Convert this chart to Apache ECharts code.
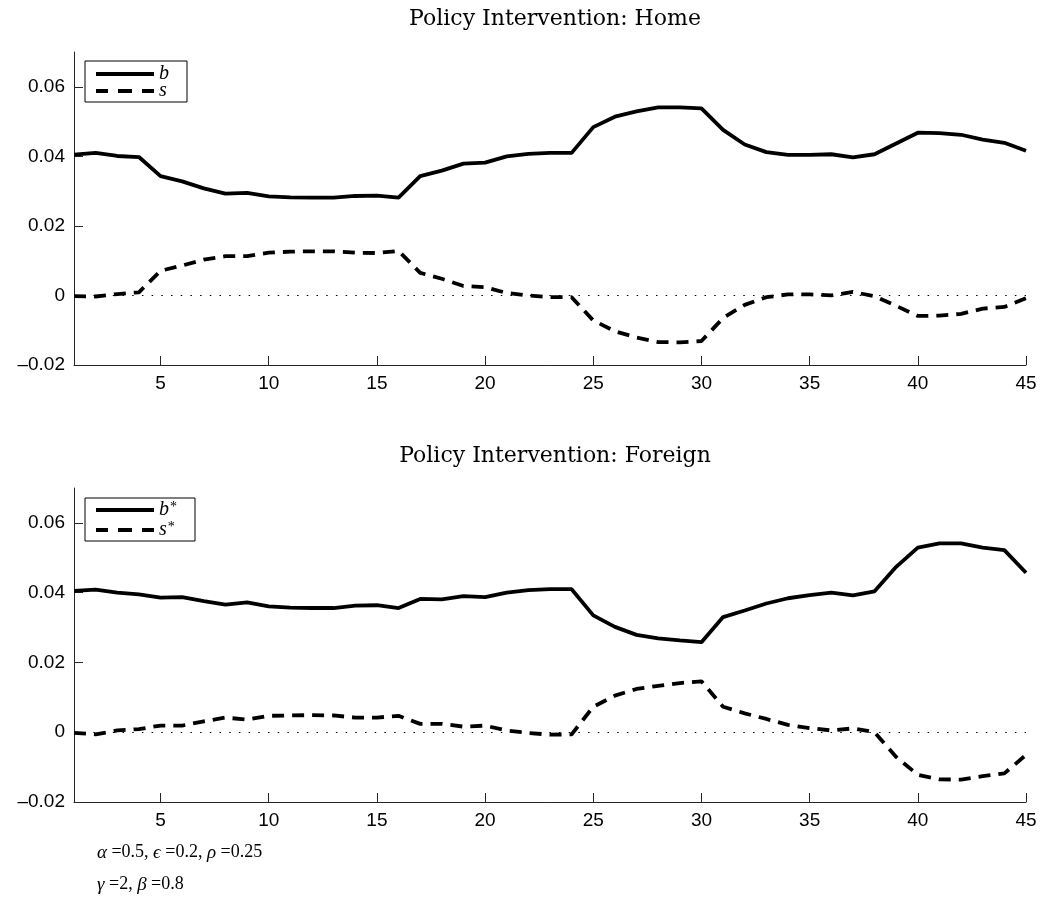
<!DOCTYPE html>
<html>
<head>
<meta charset="utf-8">
<title>Policy Intervention</title>
<script src="https://cdn.jsdelivr.net/npm/echarts@6/dist/echarts.min.js"></script>
<style>
  html, body { margin: 0; padding: 0; background: #fff; }
  #chart { width: 1044px; height: 901px; }
</style>
</head>
<body>
<div id="chart"></div>
<script>
// Horizon (periods)
const periods = [1, 2, 3, 4, 5, 6, 7, 8, 9, 10, 11, 12, 13, 14, 15, 16, 17, 18, 19, 20, 21, 22, 23,
  24, 25, 26, 27, 28, 29, 30, 31, 32, 33, 34, 35, 36, 37, 38, 39, 40, 41, 42, 43, 44, 45];

// Home economy
const homeB = [0.0405, 0.0410, 0.0401, 0.0398, 0.0343, 0.0328, 0.0308, 0.0293, 0.0295, 0.0285,
  0.0282, 0.0281, 0.0281, 0.0286, 0.0287, 0.0281, 0.0343, 0.0359, 0.0379, 0.0382, 0.0400, 0.0407,
  0.0410, 0.0410, 0.0484, 0.0514, 0.0529, 0.0541, 0.0541, 0.0538, 0.0476, 0.0434, 0.0412, 0.0404,
  0.0404, 0.0406, 0.0397, 0.0406, 0.0437, 0.0468, 0.0467, 0.0462, 0.0448, 0.0439, 0.0416];
const homeS = [-0.0002, -0.0003, 0.0004, 0.0009, 0.0071, 0.0086, 0.0103, 0.0113, 0.0113, 0.0123,
  0.0126, 0.0127, 0.0127, 0.0123, 0.0122, 0.0128, 0.0065, 0.0048, 0.0027, 0.0024, 0.0007, 0.0000,
  -0.0005, -0.0005, -0.0072, -0.0103, -0.0121, -0.0134, -0.0135, -0.0131, -0.0065, -0.0027,
  -0.0005, 0.0003, 0.0003, 0.0000, 0.0010, -0.0002, -0.0030, -0.0059, -0.0058, -0.0053, -0.0038,
  -0.0033, -0.0008];

// Foreign economy
const foreignB = [0.0405, 0.0409, 0.0400, 0.0395, 0.0386, 0.0387, 0.0376, 0.0366, 0.0372, 0.0361,
  0.0357, 0.0356, 0.0356, 0.0363, 0.0364, 0.0356, 0.0382, 0.0381, 0.0390, 0.0387, 0.0400, 0.0407,
  0.0410, 0.0410, 0.0335, 0.0302, 0.0279, 0.0269, 0.0263, 0.0258, 0.0330, 0.0349, 0.0369, 0.0384,
  0.0393, 0.0400, 0.0392, 0.0404, 0.0474, 0.0529, 0.0541, 0.0541, 0.0529, 0.0522, 0.0457];
const foreignS = [-0.0002, -0.0006, 0.0005, 0.0009, 0.0019, 0.0019, 0.0031, 0.0042, 0.0036, 0.0047,
  0.0048, 0.0049, 0.0048, 0.0042, 0.0042, 0.0047, 0.0024, 0.0024, 0.0016, 0.0019, 0.0005, -0.0002,
  -0.0007, -0.0006, 0.0073, 0.0105, 0.0124, 0.0133, 0.0141, 0.0146, 0.0073, 0.0054, 0.0038, 0.0021,
  0.0012, 0.0005, 0.0011, 0.0000, -0.0071, -0.0122, -0.0135, -0.0136, -0.0126, -0.0118, -0.0065];

// Axis ticks and labels
const xTicks = [5, 10, 15, 20, 25, 30, 35, 40, 45];
const yTicks = [-0.02, 0, 0.02, 0.04, 0.06];
const yTickLabels = ['\u20130.02', '0', '0.02', '0.04', '0.06'];

const titles = ['Policy Intervention: Home', 'Policy Intervention: Foreign'];
const seriesNames = [['b', 's'], ['b*', 's*']];
const paramLines = ['{g|\u03b1} =0.5, {g|\u03f5} =0.2, {g|\u03c1} =0.25', '{g|\u03b3} =2, {g|\u03b2} =0.8'];

const pairs = (ys) => periods.map((p, i) => [p, ys[i]]);

const AXIS = '#262626';
const sans = '"Liberation Sans", Arial, sans-serif';
const serif = '"Liberation Serif", "DejaVu Serif", serif';
const wideSerif = '"DejaVu Serif", "Liberation Serif", serif';

// Legend key glyphs: a solid bar and a three-dash bar, 58 x 4 px
const ICON_SOLID = 'path://M0,0H58V4H0Z';
const ICON_DASHED = 'path://M0,0H12V4H0Z M22,0H36V4H22Z M46,0H58V4H46Z';

const grids = [
  { left: 74, right: 18, top: 52, height: 313 },
  { left: 74, right: 18, top: 488, height: 314 }
];

function xAxisFor(idx) {
  return {
    type: 'value', gridIndex: idx, min: 1, max: 45,
    axisLine: { show: true, onZero: false, lineStyle: { color: AXIS, width: 1 } },
    axisTick: { show: true, inside: true, length: 9, customValues: xTicks, lineStyle: { color: AXIS } },
    axisLabel: { customValues: xTicks, color: '#000', fontFamily: sans, fontSize: 19, margin: 9 },
    splitLine: { show: false }
  };
}
function yAxisFor(idx) {
  return {
    type: 'value', gridIndex: idx, min: -0.02, max: 0.07,
    axisLine: { show: true, lineStyle: { color: AXIS, width: 1 } },
    axisTick: { show: true, inside: true, length: 9, customValues: yTicks, lineStyle: { color: AXIS } },
    axisLabel: {
      customValues: yTicks, color: '#000', fontFamily: sans, fontSize: 19, margin: 9,
      formatter: (v) => {
        const k = yTicks.findIndex((t) => Math.abs(t - v) < 1e-9);
        return k >= 0 ? yTickLabels[k] : '';
      }
    },
    splitLine: { show: false }
  };
}

const zeroLine = {
  silent: true, symbol: 'none', animation: false,
  label: { show: false },
  lineStyle: { color: '#000', type: [1.5, 8.2], width: 1.2 },
  data: [{ yAxis: 0 }]
};

function solid(name, idx, ys) {
  return {
    name, type: 'line', xAxisIndex: idx, yAxisIndex: idx, data: pairs(ys),
    symbol: 'none', animation: false, z: 3, color: '#000',
    itemStyle: { color: '#000' },
    lineStyle: { color: '#000', width: 3.8, type: 'solid' }
  };
}
function dashed(name, idx, ys) {
  return {
    name, type: 'line', xAxisIndex: idx, yAxisIndex: idx, data: pairs(ys),
    symbol: 'none', animation: false, z: 3, color: '#000',
    itemStyle: { color: '#000' },
    lineStyle: { color: '#000', width: 3.8, type: [12, 8], cap: 'butt' },
    markLine: zeroLine
  };
}

function legendFor(idx, top, gap, pad) {
  const names = seriesNames[idx];
  return {
    orient: 'vertical', left: 85, top,
    data: [
      { name: names[0], icon: ICON_SOLID },
      { name: names[1], icon: ICON_DASHED }
    ],
    backgroundColor: '#fff', borderColor: '#000', borderWidth: 1,
    padding: pad, itemGap: gap, itemWidth: 58, itemHeight: 4,
    selectedMode: false,
    itemStyle: { color: '#000', borderWidth: 0 },
    formatter: (n) => n.endsWith('*') ? '{i|' + n.slice(0, -1) + '}{s|*}' : '{i|' + n + '}',
    textStyle: {
      fontFamily: serif, fontSize: 18, color: '#000',
      rich: {
        i: { fontFamily: serif, fontStyle: 'italic', fontSize: 20, color: '#000' },
        s: { fontFamily: serif, fontSize: 14, color: '#000', verticalAlign: 'top', padding: [0, 0, 6, 1] }
      }
    }
  };
}

const chart = echarts.init(document.getElementById('chart'), null, { renderer: 'canvas' });
chart.setOption({
  backgroundColor: '#fff',
  animation: false,
  title: [
    { text: titles[0], left: 550, top: 3, textAlign: 'center',
      textStyle: { fontFamily: wideSerif, fontWeight: 'normal', fontSize: 22, color: '#000' } },
    { text: titles[1], left: 550, top: 440, textAlign: 'center',
      textStyle: { fontFamily: wideSerif, fontWeight: 'normal', fontSize: 22, color: '#000' } }
  ],
  grid: grids,
  xAxis: [xAxisFor(0), xAxisFor(1)],
  yAxis: [yAxisFor(0), yAxisFor(1)],
  legend: [legendFor(0, 61, -3, [3, 18, 1, 11]), legendFor(1, 498, 0, [2, 18, 1, 11])],
  series: [
    solid(seriesNames[0][0], 0, homeB),
    dashed(seriesNames[0][1], 0, homeS),
    solid(seriesNames[1][0], 1, foreignB),
    dashed(seriesNames[1][1], 1, foreignS)
  ],
  graphic: paramLines.map((t, i) => ({
    type: 'text', left: 97, top: 843 + i * 32, silent: true,
    style: {
      text: t, fill: '#000', font: '18px ' + serif,
      rich: { g: { fontFamily: serif, fontStyle: 'italic', fontSize: 19, fill: '#000' } }
    }
  }))
});
</script>
</body>
</html>
